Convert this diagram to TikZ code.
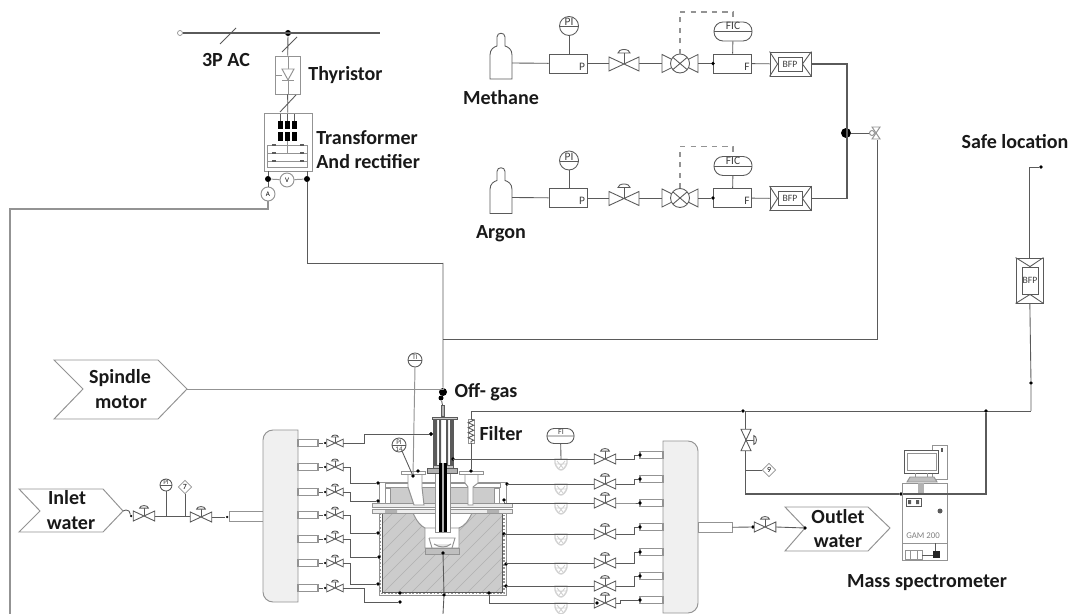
\documentclass[tikz,border=0pt]{standalone}
\usepackage{fontspec}
\setmainfont{Carlito}
\usetikzlibrary{arrows.meta,decorations.pathmorphing,shapes.geometric}

\definecolor{pipecol}{HTML}{5A5A5A}
\definecolor{boxcol}{HTML}{939393}

\tikzset{
  pipe/.style={draw=pipecol,line width=0.5pt},
  soft/.style={draw=boxcol,line width=0.55pt},
  lbl/.style={font=\bfseries\fontsize{11.4}{13}\selectfont,inner sep=0pt,text=black!90},
  tag/.style={font=\fontsize{5.5}{6}\selectfont,inner sep=0pt,text=black!75},
  dot/.style={circle,fill=black,inner sep=0pt,minimum size=0.075cm},
  bigdot/.style={circle,fill=black,inner sep=0pt,minimum size=0.2cm},
  stub/.style={rectangle,draw=boxcol,line width=0.6pt,fill=white,inner sep=0pt,minimum width=0.4cm,minimum height=0.14cm},
  meterbox/.style={rectangle,pipe,fill=white,inner sep=0pt,minimum width=0.76cm,minimum height=0.38cm},
  bfpout/.style={rectangle,pipe,fill=white,inner sep=0pt},
  bfpin/.style={rectangle,pipe,fill=white,inner sep=0pt,font=\fontsize{5.5}{6}\selectfont,text=black!75},
  ctrl/.style={rectangle,rounded corners=0.18cm,pipe,fill=white,inner sep=0pt,minimum width=0.76cm,minimum height=0.38cm},
  pics/gatevalve/.style={code={
    \draw[pipe,fill=white] (-15,-7)--(-15,7)--(15,-7)--(15,7)--cycle;
    \draw[pipe] (0,0)--(0,-11);
    \draw[pipe,fill=white] (-6,-11) arc (180:360:6 and 3.5)--cycle;
  }},
  pics/ctrlvalve/.style={code={
    \draw[pipe,fill=white] (-18,-9)--(-18,9)--(18,-9)--(18,9)--cycle;
    \draw[pipe,fill=white] (0,0) circle (9.5);
    \draw[pipe] (-7,-6)--(7,6) (-7,6)--(7,-6);
  }},
  pics/gauge/.style={code={
    \draw[pipe,fill=white] (0,0) circle (#1);
    \draw[pipe] (-#1,0.5)--(#1,0.5);
  }},
  pics/cup/.style={code={
    \draw[gray!35,line width=0.8pt,fill=white] (-6,0)--(6,0)--(6,4) .. controls (5,8) and (2,11) .. (0,11) .. controls (-2,11) and (-5,8) .. (-6,4)--cycle;
    \draw[gray!35,line width=0.5pt] (-4,2)--(2,9) (4,2)--(-2,9) (-6,5)--(6,5);
  }},
}

\begin{document}
\begin{tikzpicture}[x=0.02cm,y=-0.02cm]
  \useasboundingbox (0,0) rectangle (1071,614);

  % ================= power supply =================
  \node[circle,draw=boxcol,fill=white,inner sep=0pt,minimum size=0.1cm] (bus0) at (180,33) {};
  \coordinate (bus1) at (380,33);
  \node[dot,minimum size=0.12cm] (busj) at (288,33) {};
  \draw[pipe,line width=0.8pt] (bus0) -- (bus1);
  \draw[pipe] (220,44) -- (236,28);
  \node[rectangle,soft,inner sep=0pt,minimum width=0.5cm,minimum height=0.76cm] (thy) at (287.5,75) {};
  \node[rectangle,soft,inner sep=0pt,minimum width=0.96cm,minimum height=1.16cm] (xfmr) at (288,142) {};
  \draw[pipe] (busj) -- (thy) (282,52) -- (297,37);
  \draw[pipe] (thy) -- (xfmr) (280,112) -- (296,95);
  % thyristor symbol
  \draw[soft] (288,56) -- (288,94) (275,75) -- (282,75);
  \draw[soft,fill=white] (282,69) -- (294,69) -- (288,80) -- cycle;
  \draw[soft] (282,80) -- (294,80);
  % transformer coils and rectifier
  \foreach \cx in {280.5,287.5,294.5} {
    \draw[pipe] (\cx,114) -- (\cx,121);
    \fill[black] (\cx-2.5,121) rectangle (\cx+2.5,129);
    \fill[black] (\cx-2.5,132) rectangle (\cx+2.5,141);
  }
  \draw[soft] (267,145) rectangle (307,167);
  \draw[soft] (267,153) -- (307,153) (267,161) -- (307,161) (287.5,141) -- (287.5,153);
  \foreach \ry in {145,153,161} {
    \fill[pipecol] (272,\ry-1) rectangle (276,\ry+1);
    \fill[pipecol] (300,\ry-1) rectangle (304,\ry+1);
  }
  % meters
  \node[dot,minimum size=0.12cm] (dcm) at (268,179) {};
  \node[dot,minimum size=0.12cm] (dcp) at (307,179) {};
  \node[circle,soft,fill=white,inner sep=0pt,minimum size=0.28cm,font=\fontsize{4}{5}\selectfont] (volt) at (287,180) {V};
  \node[circle,soft,fill=white,inner sep=0pt,minimum size=0.28cm,font=\fontsize{4}{5}\selectfont] (amp) at (268,194) {A};
  \draw[soft] (dcm) -- (volt) -- (dcp);
  \draw[pipe] (268,171) -- (dcm) -- (amp);
  \coordinate (wirel) at (10,614);
  \draw[soft,line width=0.8pt] (amp) |- (10,209) -- (wirel);
  \coordinate (dcrun) at (307,263);
  \draw[pipe] (307,171) -- (dcp) -- (dcrun) -- (443,263);
  \node[lbl] (acl) at (226,60) {3P AC};
  \node[lbl,anchor=west] (thyl) at (308,75) {Thyristor};
  \node[lbl,anchor=west] (xfmrl) at (316,138) {Transformer};
  \node[lbl,anchor=west] (rectl) at (316,162) {And rectifier};

  % ================= gas supply =================
  \foreach \dy/\gas/\gastxt/\gasx in {0/ch4/Methane/501,134.5/ar/Argon/501} {
    \begin{scope}[shift={(0,\dy)}]
      \draw[pipe,fill=white] (490,79) -- (490,55) .. controls (490,49) and (494,47) .. (497,46)
        -- (497,37) .. controls (497,32) and (505,32) .. (505,37) -- (505,46)
        .. controls (508,47) and (512,49) .. (512,55) -- (512,79) -- cycle;
      \coordinate (\gas-cyl) at (512,63);
      \node[meterbox] (\gas-p) at (568,63.5) {};
      \node[tag,anchor=south east] (\gas-pt) at (\gas-p.south east) [xshift=-0.04cm,yshift=0.06cm] {\fontsize{6.5}{7}\selectfont P};
      \node[meterbox] (\gas-f) at (732.5,63.5) {};
      \node[tag,anchor=south east] (\gas-ft) at (\gas-f.south east) [xshift=-0.04cm,yshift=0.06cm] {\fontsize{6.5}{7}\selectfont F};
      \node[ctrl] (\gas-fic) at (733,31.5) {};
      \node[tag] (\gas-fict) at (733,26) {\fontsize{6.5}{7}\selectfont FIC};
      \draw[pipe] (\gas-fic.west) -- (\gas-fic.east);
      \draw[pipe] (\gas-fic) -- (\gas-f);
      \draw[pipe] (\gas-cyl) -- (\gas-p);
      \draw[pipe] (569,54) -- (569,36);
      \pic at (569,26) {gauge=9.5};
      \node[tag] (\gas-pi) at (569,22) {\fontsize{6.5}{7}\selectfont PI};
      \draw[pipe] (\gas-p) -- (609,63.5) (639,63.5) -- (662,63.5);
      \pic at (624,64) {gatevalve};
      \pic at (680,63.5) {ctrlvalve};
      \node[dot] (\gas-fd) at (713,63.5) {};
      \draw[pipe] (698,63.5) -- (\gas-fd);
      \draw[soft,dashed,line width=0.8pt] (680,54) -- (680,12) -| (733,22);
      \node[bfpout,minimum width=0.82cm,minimum height=0.48cm] (\gas-bfp) at (790.5,64) {};
      \node[bfpin,minimum width=0.48cm,minimum height=0.28cm] (\gas-bf) at (790,64) {BFP};
      \draw[pipe] (\gas-bfp.north west) -- (\gas-bf.west) -- (\gas-bfp.south west)
        (\gas-bfp.north east) -- (\gas-bf.east) -- (\gas-bfp.south east);
      \draw[pipe] (\gas-f) -- (\gas-bfp);
      \node[lbl] (\gas-txt) at (\gasx,98+0.5*\dy/67.25) {\gastxt};
    \end{scope}
  }
  \node[bigdot] (mix) at (846,133) {};
  \draw[pipe,line width=0.6pt] (ch4-bfp) -| (847,198.5) -- (ar-bfp);
  \coordinate (mixv) at (870,133);
  \draw[pipe] (mix) -- (mixv);
  \draw[soft] (876,133) -- (872,127) -- (880,127) -- cycle (876,133) -- (872,139) -- (880,139) -- cycle;
  \draw[soft] (872,133) circle (2.5);
  \coordinate (ctee) at (443,339);
  \draw[pipe] (877,140) |- (ctee);

  % ================= spindle and inlet =================
  \draw[soft,fill=white] (54,360) -- (158,360) -- (187,389) -- (158,419) -- (54,419) -- (83,389) -- cycle;
  \node[lbl] (spindlea) at (120,378) {Spindle};
  \node[lbl] (spindleb) at (121,402) {motor};
  \coordinate (spindle) at (187,389);
  \node[bigdot,minimum size=0.16cm] (offgas) at (443,392) {};
  \node[dot,minimum size=0.1cm] (offgasb) at (441,398) {};
  \draw[soft] (spindle) -| (offgas);
  \draw[pipe] (443,263) -- (offgas) -- (offgasb);
  \node[lbl] (offgasl) at (486,392) {Off- gas};
  \draw[soft,fill=white] (19,489) -- (103,489) -- (123,511) -- (103,532) -- (19,532) -- (40,511) -- cycle;
  \node[lbl] (inleta) at (67,498) {Inlet};
  \node[lbl] (inletb) at (71,523) {water};
  \coordinate (inlet) at (123,511);
  \node[dot,minimum size=0.05cm] (inv1) at (131,516) {};
  \draw[pipe] (inlet) -- (126,510) -- (129,511) -- (inv1);
  \pic[scale=0.72] at (144,516) {gatevalve};
  \pic[scale=0.72] at (201,517) {gatevalve};
  \draw[pipe] (155,516) -- (190,516);
  \draw[pipe] (166,516) -- (166,491) (185,516) -- (185,494);
  \pic at (166,485) {gauge=6};
  \node[tag] (inpi) at (166,482.5) {\fontsize{4}{5}\selectfont PI};
  \node[diamond,draw=boxcol,fill=white,inner sep=0pt,minimum size=0.27cm,font=\fontsize{4.5}{5}\selectfont] (int) at (185,487) {7};
  \node[dot,minimum size=0.05cm] (inv2) at (227,517) {};
  \draw[pipe] (212,517) -- (inv2);
  \node[rectangle,soft,fill=white,inner sep=0pt,minimum width=0.68cm,minimum height=0.2cm] (inpipe) at (246,516) {};
  \draw[pipe] (inv2) -- (inpipe);

  % ================= manifolds =================
  \draw[soft,fill=gray!12] (298,430) [rounded corners=0.2cm] -- (263,430) -- (263,602) [sharp corners] -- (298,602) -- cycle;
  \draw[soft,fill=gray!12] (663,441) [rounded corners=0.2cm] -- (698,441) -- (698,613) [sharp corners] -- (663,613) -- cycle;

  % ================= reactor =================
  \draw[soft,fill=white] (379,513) rectangle (506,595);
  \fill[gray!40] (382,513) rectangle (502,592);
  \begin{scope}
    \clip (382,513) rectangle (502,592);
    \foreach \hk in {300,314,...,500}
      \draw[gray!62,line width=0.3pt] (\hk,592) -- (\hk+79,513);
  \end{scope}
  \draw[soft,line width=0.9pt,dash pattern=on 1pt off 1pt] (380.5,513) -- (380.5,593.5) -- (504,593.5) -- (504,513);
  \draw[pipe] (382,513) -- (382,592) -- (502,592) -- (502,513);
  \draw[soft,fill=white] (413,513) .. controls (417,522) and (421,526) .. (425,528) -- (425,548)
    -- (459,548) -- (459,528) .. controls (464,526) and (468,522) .. (472,513) -- cycle;
  \draw[soft,fill=gray!50] (425,548) rectangle (459,554);
  \draw[soft] (429,538) -- (455,538) -- (452,548) (429,538) -- (432,548) (425,528) -- (459,528);
  \draw[soft,fill=gray!20] (434,544) .. controls (440,548) and (446,548) .. (451,544);
  % housing and flanges
  \draw[soft,fill=white] (379,482) rectangle (506,503);
  \fill[gray!40] (390,488) rectangle (495,503);
  \draw[soft,fill=white] (385,488) rectangle (390,503) (494,488) rectangle (499,503);
  \draw[soft,fill=white] (385,483) rectangle (500,487);
  \draw[soft,fill=gray!15] (372,503) rectangle (512,507);
  \draw[soft,fill=gray!15] (372,509) rectangle (512,513);
  \fill[gray!60] (385,510) rectangle (397,513) (487,510) rectangle (499,513);
  % ports
  \draw[soft,fill=white] (408,474) -- (422,474) -- (422,487) -- (424,505) -- (414,505) -- (408,487) -- cycle;
  \draw[soft,fill=white] (401,471) rectangle (425,474);
  \draw[soft,fill=white] (465,474) -- (478,474) -- (478,483) -- (473,487) -- (473,505) -- (468,505) -- (468,487) -- (465,483) -- cycle;
  \draw[soft,fill=white] (459,471) rectangle (483,474);
  % central shaft
  \draw[soft,fill=white] (435,468) rectangle (450,532);
  \draw[pipe,fill=white] (433,418) rectangle (453,468);
  \fill[pipecol] (433,418) rectangle (437,468) (439,418) rectangle (441,468) (446,418) rectangle (448,468) (450,418) rectangle (453,468);
  \draw[pipe,fill=gray!40] (432,417) rectangle (457,419.5);
  \draw[pipe,fill=gray!60] (427,468) rectangle (457,473);
  \draw[pipe,fill=gray!45] (433,465) rectangle (453,468);
  \fill[black] (439,463) rectangle (447,532);
  \draw[gray!60,line width=0.8pt] (443,463) -- (443,532);
  \draw[pipe,fill=gray!60] (441,405) rectangle (444.5,416);
  \draw[pipe] (offgasb) -- (442.5,405) (442.5,416) -- (442.5,418);
  \coordinate (shaftb) at (443,614);
  \node[dot] (shaftt) at (443,553) {};
  \node[dot] (shaftm) at (444,595) {};
  \draw[pipe] (shaftt) -- (shaftm) -- (shaftb);

  % temperature and pressure on the top flange
  \node[dot] (probe) at (413,476) {};
  \node[dot] (probeb) at (418,471) {};
  \pic at (415,360) {gauge=7};
  \node[tag] (ti) at (415,357) {\fontsize{4}{5}\selectfont TI};
  \draw[soft] (415,367) -- (probe);
  \pic at (399,445) {gauge=7};
  \node[tag] (tpi) at (399,442) {\fontsize{4}{5}\selectfont PI};
  \node[tag] (tpin) at (399,449) {\fontsize{4}{5}\selectfont 14};
  \draw[pipe] (402,451) -- (probe);

  % ================= filter and off-gas =================
  \node[dot] (filtb) at (471,471) {};
  \coordinate (filtt) at (471,419);
  \draw[soft,fill=white] (468,419) rectangle (474,443);
  \draw[pipe,decorate,decoration={zigzag,amplitude=0.055cm,segment length=0.1cm}] (471,419) -- (471,443);
  \draw[pipe] (471,443) -- (filtb);
  \node[lbl] (filterl) at (501,434) {Filter};
  \node[dot] (gasj) at (743,411) {};
  \coordinate (vent) at (1031,411);
  \draw[pipe] (filtt) |- (gasj) -- (vent);
  \node[dot] (ventd) at (1031,383) {};
  \node[bfpout,minimum width=0.54cm,minimum height=0.9cm] (bfpv) at (1029.5,280.5) {};
  \node[bfpin,minimum width=0.32cm,minimum height=0.54cm] (bfpvin) at (1030,280.5) {BFP};
  \draw[pipe] (bfpv.north west) -- (bfpvin.north) -- (bfpv.north east)
    (bfpv.south west) -- (bfpvin.south) -- (bfpv.south east);
  \draw[pipe] (vent) -- (ventd) -- (bfpv);
  \node[dot] (safe) at (1041,167) {};
  \draw[pipe] (bfpv) |- (safe);
  \node[lbl] (safel) at (1015,142) {Safe location};
  % sampling branch
  \coordinate (gasl) at (745,494);
  \draw[pipe] (gasj) -- (745,411) -- (gasl);
  \pic[rotate=-90,scale=0.72] at (746,440) {gatevalve};
  \node[diamond,draw=boxcol,fill=white,inner sep=0pt,minimum size=0.27cm,font=\fontsize{4.5}{5}\selectfont] (dnine) at (769,470) {9};
  \draw[pipe] (745,470) -- (dnine);
  \node[dot] (msin) at (901,494) {};
  \node[dot] (msout) at (986,411) {};
  \draw[pipe,line width=0.7pt] (gasl) -- (msin);

  % ================= cooling circuits =================
  \foreach \y/\xb/\ye/\xe [count=\i] in {443/364/434/431,467/350/483/378,492/350/501/378,515/350/533/378,539/350/557/379,563/350/584/378,588/364/602/400} {
    \node[stub] (ls\i) at (308,\y) {};
    \node[dot,minimum size=0.05cm] (lv\i) at (325,\y) {};
    \pic[scale=0.55] at (335,\y) {gatevalve};
    \node[dot] (le\i) at (\xe,\ye) {};
    \draw[pipe] (ls\i) -- (lv\i);
    \draw[pipe] (343,\y) -| (\xb,\ye) -- (le\i);
  }
  \node[dot] (ledge) at (400,593) {};
  \foreach \sx/\sy/\y/\xb/\ys [count=\i] in {453/459/459/634/455,507/484/484/634/479,504/500/503/634/503,504/534/534/634/527,506/564/563/634/552,506/586/586/634/576,489/593/603/620/600} {
    \node[stub,minimum width=0.46cm] (rs\i) at (651.5,\ys) {};
    \node[dot] (rd\i) at (640,\ys) {};
    \node[dot] (rf\i) at (\sx,\sy) {};
    \pic at (561,\y) {cup};
    \draw[pipe] (rf\i) |- (597,\y);
    \pic[scale=0.72] at (605,\y) {gatevalve};
    \draw[pipe] (616,\y) -| (\xb,\ys) -- (rd\i) -- (rs\i);
  }
  \node[dot] (rv7) at (597,603) {};
  \node[ctrl,minimum width=0.54cm,minimum height=0.3cm,rounded corners=0.14cm] (fi) at (560.5,436) {};
  \node[tag] (fit) at (561,432) {\fontsize{4.5}{5}\selectfont FI};
  \draw[pipe] (fi.west) -- (fi.east) (fi) -- (561,459);
  \node[dot] (aftert) at (431,434) {};
  % outlet
  \node[rectangle,soft,fill=white,inner sep=0pt,minimum width=0.68cm,minimum height=0.2cm] (outpipe) at (715,527.5) {};
  \node[dot] (outd) at (753,527) {};
  \draw[pipe] (outpipe) -- (outd);
  \pic[scale=0.72] at (765,527) {gatevalve};
  \draw[soft,fill=white] (785,507) -- (868,507) -- (890,528) -- (868,551) -- (785,551) -- (805,528) -- cycle;
  \node[dot] (outlet) at (805,528) {};
  \draw[pipe] (776,527) -- (outlet);
  \node[lbl] (outleta) at (838,517) {Outlet};
  \node[lbl] (outletb) at (838,541) {water};

  % ================= mass spectrometer =================
  \draw[soft] (932,445) rectangle (947,479);
  \fill[pipecol] (941,448) rectangle (943,452);
  \draw[pipe,fill=white] (904,450) rectangle (938,473);
  \draw[soft] (907,453) rectangle (936,470);
  \draw[soft] (915,473) -- (915,477) (927,473) -- (927,477);
  \draw[soft,fill=gray!50] (907,482) -- (910,477) -- (934,477) -- (937,482) -- cycle;
  \draw[soft,fill=white] (902,483) rectangle (947,560);
  \draw[soft] (902,543) -- (947,543);
  \fill[gray!60] (918,483) rectangle (924,494);
  \draw[pipe,fill=white] (906,498) rectangle (921,506);
  \fill[pipecol] (908,500) rectangle (911,504) (916,500) rectangle (919,504);
  \fill[pipecol] (940,511) circle (2.5);
  \node[font=\fontsize{5}{6}\selectfont,text=gray,inner sep=0pt] (gam) at (923,536) {GAM 200};
  \draw[soft] (905,550) rectangle (922,559) (910,550) -- (910,559) (917,550) -- (917,559);
  \draw[pipe] (922,555) -- (933,555) (935,543) -- (935,551);
  \fill[black!85] (933,551) rectangle (940,558);
  \draw[pipe,line width=0.7pt] (msin) -- (986,494) -- (msout);
  \node[lbl] (msl) at (927,583) {Mass spectrometer};
\end{tikzpicture}
\end{document}
